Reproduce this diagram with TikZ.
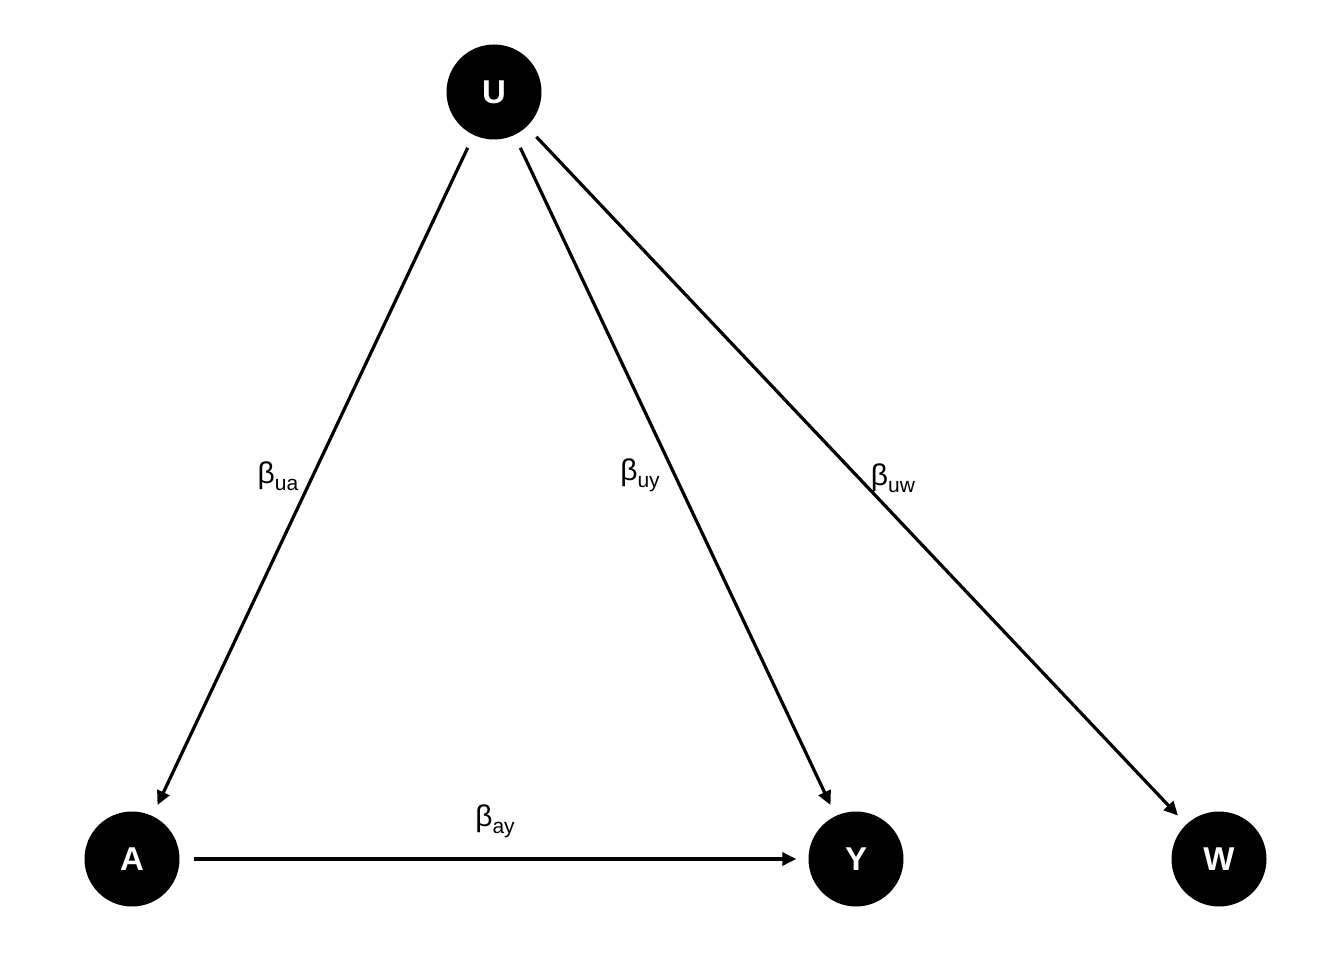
\documentclass[tikz,border=0pt]{standalone}
\usepackage{fontspec}
\setmainfont{Liberation Sans}
\usetikzlibrary{arrows.meta}
\newcommand{\coefsub}[1]{\raisebox{-7pt}{\fontsize{21}{24}\selectfont #1}}
\begin{document}
\begin{tikzpicture}[x=1pt,y=-1pt,
  var/.style={circle,fill=black,minimum size=95pt,inner sep=0pt,text=white,font=\fontsize{33}{36}\selectfont\bfseries},
  edge/.style={line width=3.2pt,-{Triangle[length=14pt,width=13pt]},shorten <=14pt,shorten >=12pt},
  coef/.style={font=\fontsize{30}{34}\selectfont,inner sep=0pt}]
\useasboundingbox (0,0) rectangle (1344,960);
\node[var] (U) at (494,92) {U};
\node[var] (A) at (132,859) {A};
\node[var] (Y) at (856,859) {Y};
\node[var] (W) at (1219,859) {W};
\draw[edge] (U) -- (A);
\draw[edge] (U) -- (Y);
\draw[edge] (U) -- (W);
\draw[edge] (A) -- (Y);
\node[coef] (lua) at (278,476) {β\coefsub{ua}};
\node[coef] (luy) at (640,475) {β\coefsub{uy}};
\node[coef] (luw) at (893,478) {β\coefsub{uw}};
\node[coef] (lay) at (495,821) {β\coefsub{ay}};
\end{tikzpicture}
\end{document}
